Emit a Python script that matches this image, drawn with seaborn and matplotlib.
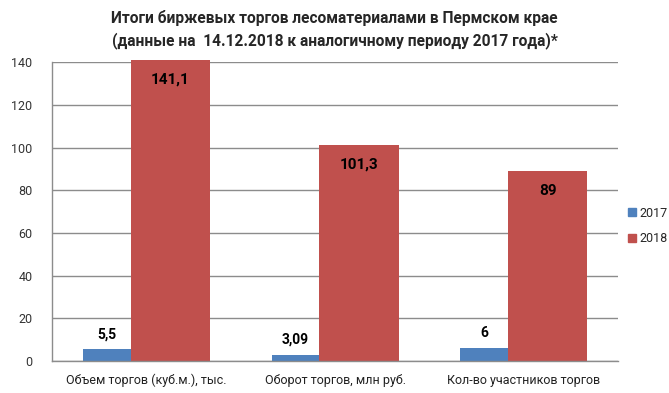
import pandas as pd
import numpy as np
import matplotlib.pyplot as plt
import seaborn as sns
from matplotlib.patches import Patch

categories = ['Объем торгов (куб.м.), тыс.', 'Оборот торгов, млн руб.', 'Кол-во участников торгов']
values_2017 = [5.5, 3.09, 6]
values_2018 = [141.1, 101.3, 89]
labels_2017 = ['5,5', '3,09', '6']
labels_2018 = ['141,1', '101,3', '89']
years = ['2017', '2018']
colors = ['#4F81BD', '#C0504D']

title = ('Итоги биржевых торгов лесоматериалами в Пермском крае\n'
         '(данные на  14.12.2018 к аналогичному периоду 2017 года)*')

df = pd.DataFrame({
    'cat': categories * 2,
    'val': values_2017 + values_2018,
    'year': ['2017'] * 3 + ['2018'] * 3,
})

sns.set_style('white')
plt.rcParams['font.family'] = ['Roboto', 'DejaVu Sans']

fig = plt.figure(figsize=(6.69, 3.93), dpi=100)
ax = fig.add_axes([0.0777, 0.081, 0.8463, 0.761])

sns.barplot(data=df, x='cat', y='val', hue='year', palette=colors,
            width=0.506, saturation=1, legend=False, ax=ax, zorder=2)

# widen bars so the 2018 bar overlaps the 2017 one (Excel-like overlap)
bar_w = 0.42
for cont in ax.containers:
    for p in cont.patches:
        c = p.get_x() + p.get_width() / 2
        p.set_x(c - bar_w / 2)
        p.set_width(bar_w)
        p.set_edgecolor('none')
        p.set_clip_on(False)

blue = ax.containers[0].patches
red = ax.containers[1].patches
for i in range(len(categories)):
    bp, rp = blue[i], red[i]
    vis_c = (bp.get_x() + rp.get_x()) / 2
    ax.annotate(labels_2017[i], (vis_c, values_2017[i]), xytext=(0, 11),
                textcoords='offset points', ha='center', va='center',
                fontsize=10, fontweight='bold', color='black',
                annotation_clip=False)
    ax.annotate(labels_2018[i], (rp.get_x() + bar_w / 2, values_2018[i]),
                xytext=(0, -14.5), textcoords='offset points', ha='center',
                va='center', fontsize=11, fontweight='bold', color='black',
                annotation_clip=False)

ax.set_xlim(-0.5, 2.5)
ax.set_ylim(0, 140)
ax.set_yticks(np.arange(0, 141, 20))
ax.yaxis.grid(True, color='#8c8c8c', linewidth=1)
ax.set_axisbelow(True)
for s in ['top', 'right']:
    ax.spines[s].set_visible(False)
for s in ['left', 'bottom']:
    ax.spines[s].set_color('#8c8c8c')
    ax.spines[s].set_linewidth(1)
ax.tick_params(axis='y', labelsize=9, colors='#333333', length=0, pad=14)
ax.tick_params(axis='x', labelsize=9, colors='#222222', length=0, pad=9)
ax.set_xlabel('')
ax.set_ylabel('')

fig.suptitle(title, x=0.5, y=0.975, fontsize=11.2, fontweight='bold', linespacing=1.45)

handles = [Patch(color=colors[0]), Patch(color=colors[1])]
fig.legend(handles, years, loc='center left', bbox_to_anchor=(0.922, 0.425),
           frameon=False, fontsize=9, handlelength=0.6, handleheight=0.6,
           handletextpad=0.3, labelspacing=1.0)

fig.savefig('out.png', dpi=100)
